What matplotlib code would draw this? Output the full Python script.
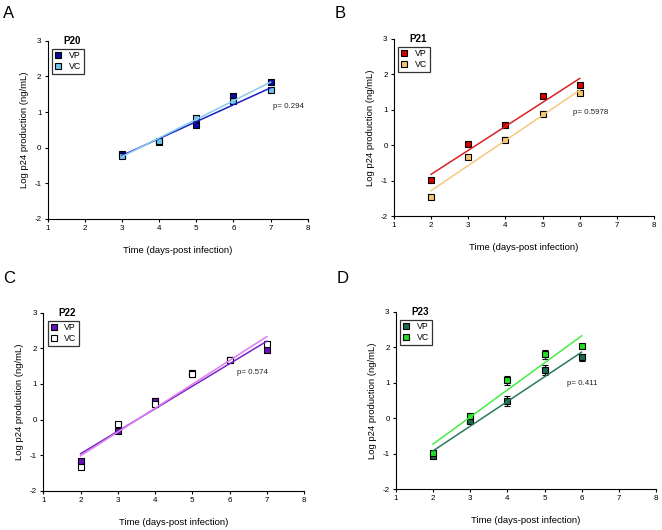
import matplotlib
matplotlib.use("Agg")
import matplotlib.pyplot as plt
from matplotlib.lines import Line2D

plt.rcParams["font.family"] = ["Liberation Sans", "DejaVu Sans"]
plt.rcParams["axes.unicode_minus"] = False

# ---------------- data ----------------
days_a = [3, 4, 5, 6, 7]
a_vp = [-0.18, 0.17, 0.64, 1.46, 1.83]
a_vc = [-0.23, 0.20, 0.82, 1.32, 1.62]
a_vp_err = [0.04, 0.04, 0.05, 0.06, 0.04]
a_vc_err = [0.03, 0.04, 0.04, 0.04, 0.04]
a_fit_x = [3, 7]
a_vp_fit = [-0.22, 1.68]
a_vc_fit = [-0.25, 1.84]

days_b = [2, 3, 4, 5, 6]
b_vp = [-0.99, 0.03, 0.57, 1.40, 1.70]
b_vc = [-1.46, -0.32, 0.16, 0.88, 1.47]
b_vp_err = [0.03, 0.03, 0.04, 0.03, 0.04]
b_vc_err = [0.03, 0.04, 0.08, 0.07, 0.04]
b_fit_x = [2, 6]
b_vp_fit = [-0.82, 1.88]
b_vc_fit = [-1.28, 1.55]

days_c = [2, 3, 4, 5, 6, 7]
c_vp = [-1.15, -0.33, 0.53, 1.30, 1.68, 1.95]
c_vc = [-1.33, -0.13, 0.45, 1.28, 1.68, 2.12]
c_vp_err = [0.05, 0.04, 0.08, 0.08, 0.03, 0.05]
c_vc_err = [0.04, 0.04, 0.05, 0.08, 0.03, 0.05]
c_fit_x = [2, 7]
c_vp_fit = [-0.96, 2.20]
c_vc_fit = [-1.02, 2.33]

days_d = [2, 3, 4, 5, 6]
d_vp = [-1.07, -0.08, 0.48, 1.36, 1.72]
d_vc = [-0.97, 0.05, 1.07, 1.80, 2.02]
d_vp_err = [0.04, 0.07, 0.15, 0.15, 0.10]
d_vc_err = [0.04, 0.08, 0.13, 0.12, 0.05]
d_fit_x = [2, 6]
d_vp_fit = [-0.92, 1.86]
d_vc_fit = [-0.73, 2.32]

panels = [
    # colours: vp marker, vc marker, vp line, vc line
    dict(letter="A", title="P20", p="p= 0.294", ppos=(7.05, 1.15),
         x=days_a, vp=a_vp, vc=a_vc, vpe=a_vp_err, vce=a_vc_err,
         fx=a_fit_x, vpf=a_vp_fit, vcf=a_vc_fit,
         cols=("#0a0aa6", "#6cc4ee", "#1c1cc4", "#86cdf2"),
         rect=[0.072, 0.587, 0.393, 0.336], lpos=(0.005, 0.011)),
    dict(letter="B", title="P21", p="p= 0.5978", ppos=(5.82, 0.93),
         x=days_b, vp=b_vp, vc=b_vc, vpe=b_vp_err, vce=b_vc_err,
         fx=b_fit_x, vpf=b_vp_fit, vcf=b_vc_fit,
         cols=("#d40000", "#f6c572", "#d82222", "#f4c97e"),
         rect=[0.595, 0.592, 0.393, 0.335], lpos=(0.505, 0.011)),
    dict(letter="C", title="P22", p="p= 0.574", ppos=(6.19, 1.33),
         x=days_c, vp=c_vp, vc=c_vc, vpe=c_vp_err, vce=c_vc_err,
         fx=c_fit_x, vpf=c_vp_fit, vcf=c_vc_fit,
         cols=("#6a0fc0", "#ffffff", "#7424c8", "#e07cee"),
         rect=[0.0654, 0.074, 0.394, 0.336], lpos=(0.005, 0.511)),
    dict(letter="D", title="P23", p="p= 0.411", ppos=(5.6, 0.97),
         x=days_d, vp=d_vp, vc=d_vc, vpe=d_vp_err, vce=d_vc_err,
         fx=d_fit_x, vpf=d_vp_fit, vcf=d_vc_fit,
         cols=("#1c6a4a", "#22dd22", "#2a7a5c", "#44ee44"),
         rect=[0.598, 0.077, 0.393, 0.335], lpos=(0.508, 0.511)),
]

fig = plt.figure(figsize=(6.62, 5.30), dpi=100)

for p in panels:
    ax = fig.add_axes(p["rect"])
    vp_mc, vc_mc, vp_lc, vc_lc = p["cols"]

    ax.errorbar(p["x"], p["vp"], yerr=p["vpe"], fmt="none", ecolor="black",
                elinewidth=0.8, capsize=2.2, capthick=0.8, zorder=2)
    ax.errorbar(p["x"], p["vc"], yerr=p["vce"], fmt="none", ecolor="black",
                elinewidth=0.8, capsize=2.2, capthick=0.8, zorder=2)
    ax.plot(p["x"], p["vp"], "s", ms=5, mfc=vp_mc, mec="black", mew=0.8, zorder=3)
    ax.plot(p["x"], p["vc"], "s", ms=5, mfc=vc_mc, mec="black", mew=0.8, zorder=3)

    # regression lines
    ax.plot(p["fx"], p["vpf"], color=vp_lc, lw=1.1, zorder=4)
    ax.plot(p["fx"], p["vcf"], color=vc_lc, lw=1.1, zorder=4)

    ax.set_xlim(1, 8)
    ax.set_ylim(-2, 3)
    ax.set_xticks(range(1, 9))
    ax.set_yticks(range(-2, 4))
    for s in ["top", "right"]:
        ax.spines[s].set_visible(False)
    for s in ["left", "bottom"]:
        ax.spines[s].set_linewidth(0.8)
    ax.tick_params(direction="out", length=2.5, width=0.8, labelsize=5.8, pad=2)

    ax.set_xlabel("Time (days-post infection)", fontsize=6.8, labelpad=10)
    ax.set_ylabel("Log p24 production (ng/mL)", fontsize=6.8, labelpad=4)

    ax.text(p["ppos"][0], p["ppos"][1], p["p"], fontsize=5.7, ha="left",
            va="center", color="#222222")

    handles = [
        Line2D([], [], ls="none", marker="s", ms=5, mfc=vp_mc, mec="black", mew=0.8),
        Line2D([], [], ls="none", marker="s", ms=5, mfc=vc_mc, mec="black", mew=0.8),
    ]
    leg = ax.legend(handles, ["VP", "VC"], loc="upper left",
                    bbox_to_anchor=(0.017, 0.955), fontsize=6.3, frameon=True,
                    fancybox=False, edgecolor="black", handlelength=0.8,
                    handletextpad=0.8, borderpad=0.3, labelspacing=0.2,
                    borderaxespad=0)
    leg.get_frame().set_linewidth(0.9)
    ax.text(0.092, 1.0, p["title"], transform=ax.transAxes, fontsize=7,
            fontweight="bold", ha="center", va="center")

    fig.text(p["lpos"][0], 1 - p["lpos"][1], p["letter"], fontsize=12,
             ha="left", va="top")

fig.savefig("out.png", dpi=100)
